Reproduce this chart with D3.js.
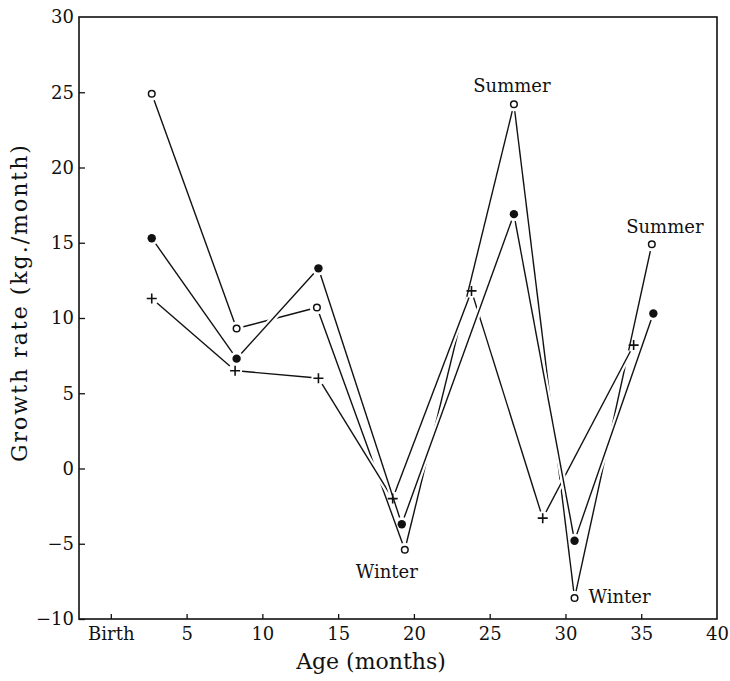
<!DOCTYPE html>
<html>
<head>
<meta charset="utf-8">
<script src="https://cdn.jsdelivr.net/npm/d3@7"></script>
<style>
  body { margin: 0; background: #fff; }
  svg text { font-family: "DejaVu Serif", serif; fill: #111; }
</style>
</head>
<body>
<svg id="chart" width="730" height="681"></svg>
<script>
// Values (age in months, growth rate in kg/month)
const openAge = [2.7, 8.3, 13.6, 19.4, 26.6, 30.6, 35.7];
const openRate = [24.9, 9.3, 10.7, -5.4, 24.2, -8.6, 14.9];

const filledAge = [2.7, 8.3, 13.7, 19.2, 26.6, 30.6, 35.8];
const filledRate = [15.3, 7.3, 13.3, -3.7, 16.9, -4.8, 10.3];

const plusAge = [2.7, 8.2, 13.7, 18.6, 23.8, 28.5, 34.5];
const plusRate = [11.3, 6.5, 6.0, -2.0, 11.8, -3.3, 8.2];

const xTicks = [0, 5, 10, 15, 20, 25, 30, 35, 40];
const xTickLabels = ['Birth', '5', '10', '15', '20', '25', '30', '35', '40'];
const yTicks = [-10, -5, 0, 5, 10, 15, 20, 25, 30];

// Seasonal notes: [series, point index, text]
const notes = [
  ['open', 4, 'Summer'],
  ['open', 6, 'Summer'],
  ['open', 3, 'Winter'],
  ['open', 5, 'Winter'],
];

const margin = { top: 17, right: 13, bottom: 62, left: 79 };
const width = 730 - margin.left - margin.right;
const height = 681 - margin.top - margin.bottom;

const svg = d3.select('#chart');
const g = svg.append('g').attr('transform', `translate(${margin.left}, ${margin.top})`);

const x = d3.scaleLinear().domain([-2.1, 40]).range([0, width]);
const y = d3.scaleLinear().domain([-10, 30]).range([height, 0]);

// frame
g.append('rect')
  .attr('width', width)
  .attr('height', height)
  .attr('fill', 'none')
  .attr('stroke', '#111')
  .attr('stroke-width', 1.6);

// x axis, ticks pointing inward
const xAxis = g.append('g')
  .attr('transform', `translate(0, ${height})`)
  .call(d3.axisBottom(x)
    .tickValues(xTicks)
    .tickFormat((d, i) => xTickLabels[i])
    .tickSizeInner(-5)
    .tickSizeOuter(0)
    .tickPadding(8));
xAxis.select('.domain').remove();
xAxis.selectAll('line').attr('stroke', '#111').attr('stroke-width', 1.3);
xAxis.selectAll('text').attr('font-size', 18).attr('font-family', '"DejaVu Serif", serif');
xAxis.selectAll('.tick').filter((d) => d === 40).select('line').remove();

// y axis
const yAxis = g.append('g')
  .call(d3.axisLeft(y)
    .tickValues(yTicks)
    .tickFormat((d) => (d < 0 ? '\u2212' + Math.abs(d) : d))
    .tickSizeInner(-6)
    .tickSizeOuter(0)
    .tickPadding(5));
yAxis.select('.domain').remove();
yAxis.selectAll('line').attr('stroke', '#111').attr('stroke-width', 1.3);
yAxis.selectAll('text').attr('font-size', 18).attr('font-family', '"DejaVu Serif", serif');
yAxis.selectAll('.tick').filter((d) => d === 30).select('line').remove();

// axis titles
svg.append('text')
  .attr('x', margin.left + width / 2 - 27)
  .attr('y', 669)
  .attr('text-anchor', 'middle')
  .attr('font-size', 22)
  .text('Age (months)');

svg.append('text')
  .attr('transform', `translate(27, ${(145 + 460) / 2}) rotate(-90)`)
  .attr('text-anchor', 'middle')
  .attr('font-size', 22)
  .attr('letter-spacing', 2)
  .text('Growth rate (kg./month)');

// build series
const makeSeries = (ages, rates) => ages.map((a, i) => ({ age: a, rate: rates[i] }));
const series = {
  open: makeSeries(openAge, openRate),
  plus: makeSeries(plusAge, plusRate),
  filled: makeSeries(filledAge, filledRate),
};
const order = ['open', 'plus', 'filled'];

// segments stop a little short of the markers, like the hand drawing
const gap = 7;
function segments(pts) {
  const out = [];
  for (let i = 0; i < pts.length - 1; i += 1) {
    const x1 = x(pts[i].age);
    const y1 = y(pts[i].rate);
    const x2 = x(pts[i + 1].age);
    const y2 = y(pts[i + 1].rate);
    const len = Math.hypot(x2 - x1, y2 - y1);
    const ux = (x2 - x1) / len;
    const uy = (y2 - y1) / len;
    out.push({
      x1: x1 + ux * gap, y1: y1 + uy * gap,
      x2: x2 - ux * gap, y2: y2 - uy * gap,
    });
  }
  return out;
}

// lines first: a white halo breaks the lines drawn underneath
const lineLayer = g.append('g');
order.forEach((key) => {
  const segs = segments(series[key]);
  const layer = lineLayer.append('g').attr('class', `series-${key}`);

  layer.selectAll('line.halo')
    .data(segs)
    .enter()
    .append('line')
    .attr('class', 'halo')
    .attr('x1', (d) => d.x1).attr('y1', (d) => d.y1)
    .attr('x2', (d) => d.x2).attr('y2', (d) => d.y2)
    .attr('stroke', '#fff')
    .attr('stroke-width', 6);

  layer.selectAll('line.seg')
    .data(segs)
    .enter()
    .append('line')
    .attr('class', 'seg')
    .attr('x1', (d) => d.x1).attr('y1', (d) => d.y1)
    .attr('x2', (d) => d.x2).attr('y2', (d) => d.y2)
    .attr('stroke', '#111')
    .attr('stroke-width', 1.4);
});

// markers on top
const markLayer = g.append('g');
order.forEach((key) => {
  const pts = markLayer.append('g').selectAll('.pt')
    .data(series[key])
    .enter();

  if (key === 'open') {
    pts.append('circle')
      .attr('cx', (d) => x(d.age))
      .attr('cy', (d) => y(d.rate))
      .attr('r', 3.3)
      .attr('fill', '#fff')
      .attr('stroke', '#111')
      .attr('stroke-width', 1.5);
  } else if (key === 'filled') {
    pts.append('circle')
      .attr('cx', (d) => x(d.age))
      .attr('cy', (d) => y(d.rate))
      .attr('r', 4.2)
      .attr('fill', '#111');
  } else {
    pts.append('path')
      .attr('d', (d) => {
        const cx = x(d.age);
        const cy = y(d.rate);
        return `M${cx - 5},${cy}H${cx + 5}M${cx},${cy - 5}V${cy + 5}`;
      })
      .attr('stroke', '#111')
      .attr('stroke-width', 1.6);
  }
});

// season notes
const noteOffsets = [
  { dx: -2, dy: -12, anchor: 'middle' },
  { dx: 13, dy: -11, anchor: 'middle' },
  { dx: -18, dy: 28, anchor: 'middle' },
  { dx: 14, dy: 5, anchor: 'start' },
];
notes.forEach((n, i) => {
  const p = series[n[0]][n[1]];
  const o = noteOffsets[i];
  g.append('text')
    .attr('x', x(p.age) + o.dx)
    .attr('y', y(p.rate) + o.dy)
    .attr('text-anchor', o.anchor)
    .attr('font-size', 18)
    .text(n[2]);
});
</script>
</body>
</html>
